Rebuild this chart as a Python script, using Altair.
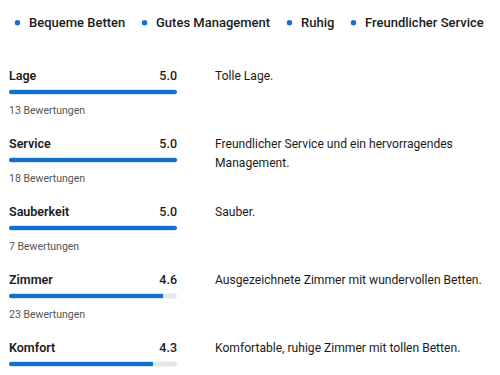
import altair as alt
import pandas as pd

# ---- data ----
categories = ["Lage", "Service", "Sauberkeit", "Zimmer", "Komfort"]
scores = [5.0, 5.0, 5.0, 4.6, 4.3]
review_counts = [13, 18, 7, 23, None]
comments = [
    "Tolle Lage.",
    "Freundlicher Service und ein hervorragendes\nManagement.",
    "Sauber.",
    "Ausgezeichnete Zimmer mit wundervollen Betten.",
    "Komfortable, ruhige Zimmer mit tollen Betten.",
]
highlights = ["Bequeme Betten", "Gutes Management", "Ruhig", "Freundlicher Service"]
max_score = 5

BLUE = "#1070cc"
TRACK = "#e5e7ea"
DARK = "#1b1b1b"
GRAY = "#555555"
FONT = "Roboto"

df = pd.DataFrame({
    "cat": categories,
    "score": scores,
    "comment": comments,
})
df["count_label"] = [f"{c} Bewertungen" if c is not None else "" for c in review_counts]
df_counts = df[[c is not None for c in review_counts]]
legend_df = pd.DataFrame({"item": highlights})

x_scale = alt.Scale(domain=[0, max_score], range=[1, 169], nice=False, zero=True)
y_scale = alt.Scale(domain=categories, range=[50, 390], paddingInner=0, paddingOuter=0)

Y = alt.Y("cat:N", scale=y_scale, axis=None, sort=categories)

base = alt.Chart(df)

track = base.mark_bar(height=5, cornerRadius=2.5, color=TRACK).encode(
    x=alt.datum(0, scale=x_scale, axis=None),
    x2=alt.datum(max_score),
    y=Y,
)

bars = base.mark_bar(height=5, cornerRadius=2.5, color=BLUE).encode(
    x=alt.X("score:Q", scale=x_scale, axis=None),
    y=Y,
)

labels = base.mark_text(
    align="left", baseline="middle", dy=-16, font=FONT, fontSize=12.5,
    fontWeight=600, color=DARK,
).encode(x=alt.datum(0), y=Y, text="cat:N")

score_txt = base.mark_text(
    align="right", baseline="middle", dy=-16, font=FONT, fontSize=12.5,
    fontWeight=500, color=DARK,
).encode(x=alt.datum(max_score), y=Y, text=alt.Text("score:Q", format=".1f"))

count_txt = alt.Chart(df_counts).mark_text(
    align="left", baseline="middle", dy=19, font=FONT, fontSize=10.5,
    color=GRAY,
).encode(x=alt.datum(0), y=Y, text="count_label:N")

comment_txt = base.mark_text(
    align="left", baseline="top", dy=-22, dx=38, font=FONT, fontSize=12.1,
    fontWeight="normal", color=DARK, lineBreak="\n", lineHeight=19,
).encode(x=alt.datum(max_score), y=Y, text="comment:N")

legend_layer = alt.Chart(legend_df).mark_circle(opacity=0).encode(
    color=alt.Color(
        "item:N",
        sort=highlights,
        scale=alt.Scale(domain=highlights, range=[BLUE] * len(highlights)),
        legend=alt.Legend(
            orient="none", legendX=3, legendY=8, direction="horizontal",
            title=None, symbolType="circle", symbolSize=30,
            symbolOpacity=1, symbolFillColor=BLUE, symbolStrokeWidth=0,
            labelFont=FONT, labelFontSize=13, labelFontWeight=500,
            labelColor=DARK, labelOffset=5, columnPadding=12, padding=0,
            labelLimit=300,
        ),
    ),
)

chart = alt.layer(
    track, bars, labels, score_txt, count_txt, comment_txt, legend_layer
).properties(
    width=484, height=359, padding=0, autosize=alt.AutoSizeParams(type="none"),
    background="white",
).configure_view(stroke=None)

chart.save("out.html", embed_options={"renderer": "svg", "actions": False})
